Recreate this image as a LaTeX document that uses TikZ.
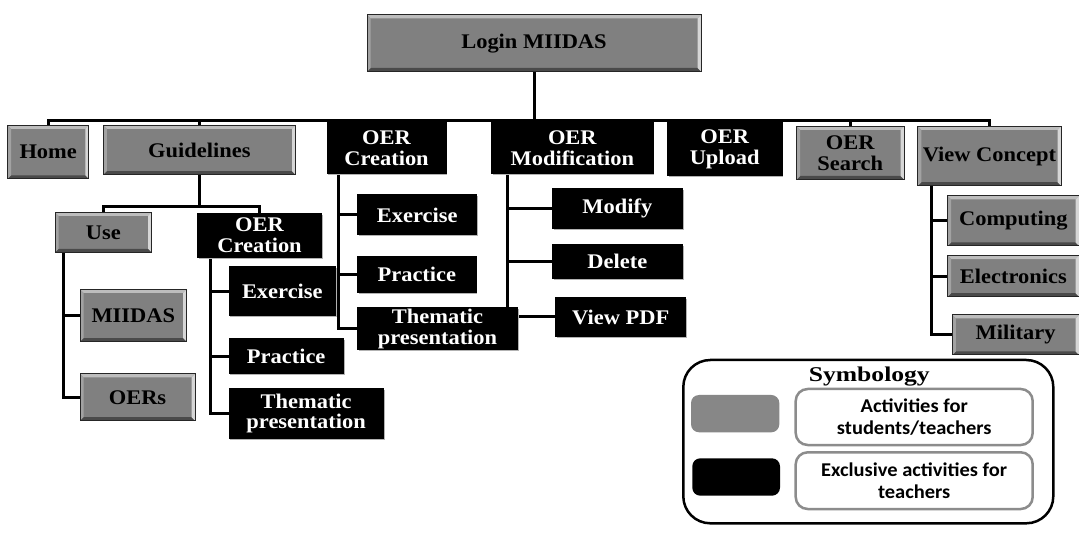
\documentclass[tikz,border=0pt]{standalone}
\usepackage{fontspec}
\setmainfont{Liberation Serif}[FakeStretch=1.08]
\newfontfamily\symbfont{Liberation Serif}[FakeStretch=1.22]
\newfontfamily\legfont{Carlito}[FakeStretch=1.05]
\usetikzlibrary{backgrounds,shadows}
\definecolor{boxgray}{HTML}{808080}
\definecolor{swgray}{HTML}{878787}
\definecolor{legborder}{HTML}{8C8C8C}
\definecolor{bvtop}{HTML}{BDBDBD}
\definecolor{bvleft}{HTML}{A2A2A2}
\definecolor{bvright}{HTML}{D6D6D6}
\definecolor{bvbottom}{HTML}{4A4A4A}
\tikzset{
  basebox/.style={rectangle, inner sep=0pt, align=center,
    font=\bfseries\fontsize{20.8}{20.5}\selectfont},
  bevel/.style={path picture={
    \path (path picture bounding box.north west) coordinate (bnw)
          (path picture bounding box.north east) coordinate (bne)
          (path picture bounding box.south west) coordinate (bsw)
          (path picture bounding box.south east) coordinate (bse);
    \fill[bvtop] (bnw) -- (bne) -- ([shift={(-3.5pt,-3.5pt)}]bne) -- ([shift={(3.5pt,-3.5pt)}]bnw) -- cycle;
    \fill[bvbottom] (bsw) -- (bse) -- ([shift={(-3.5pt,3.5pt)}]bse) -- ([shift={(3.5pt,3.5pt)}]bsw) -- cycle;
    \fill[bvleft] (bnw) -- ([shift={(3.5pt,-3.5pt)}]bnw) -- ([shift={(3.5pt,3.5pt)}]bsw) -- (bsw) -- cycle;
    \fill[bvright] (bne) -- ([shift={(-3.5pt,-3.5pt)}]bne) -- ([shift={(-3.5pt,3.5pt)}]bse) -- (bse) -- cycle;
  }},
  gbox/.style={basebox, fill=boxgray, draw=black!85, line width=1pt, text=black, bevel},
  kbox/.style={basebox, fill=black, draw=black, line width=1pt, text=white,
    drop shadow={shadow xshift=1.3pt, shadow yshift=-1.3pt, fill=black!30, opacity=1}},
  conn/.style={line width=3pt, black},
  legtext/.style={rectangle, inner sep=0pt, align=center, draw=legborder, line width=2.5pt,
    rounded corners=12pt, fill=white, font=\legfont\bfseries\fontsize{19.5}{21.5}\selectfont},
  swatch/.style={rectangle, inner sep=0pt, rounded corners=8pt},
}
\begin{document}
\begin{tikzpicture}[x=1pt, y=-1pt]
\useasboundingbox (0,0) rectangle (1079,534);

% top level
\node[gbox, minimum width=334pt, minimum height=56.5pt] (login) at (534,43.25) {Login MIIDAS};
\node[gbox, minimum width=81.2pt, minimum height=53.4pt] (home) at (48.2,152.1) {Home};
\node[gbox, minimum width=192.2pt, minimum height=49.3pt] (guide) at (199.4,150.05) {Guidelines};
\node[kbox, minimum width=119pt, minimum height=50.6pt] (oerc1) at (386.5,148.3) {OER\\Creation};
\node[kbox, minimum width=161.3pt, minimum height=50.6pt] (oermod) at (572.35,148.3) {OER\\Modification};
\node[kbox, minimum width=114.6pt, minimum height=52.4pt] (upload) at (724.7,149.2) {OER\\Upload};
\node[gbox, minimum width=107.5pt, minimum height=53pt] (search) at (850.25,153) {OER\\Search};
\node[gbox, minimum width=143.2pt, minimum height=59.2pt] (vc) at (989.4,156.1) {View Concept};

% guidelines branch
\node[gbox, minimum width=96.7pt, minimum height=40pt] (use) at (103.35,232.3) {Use};
\node[kbox, minimum width=124.4pt, minimum height=44pt] (oerc2) at (259.5,235.3) {OER\\Creation};
\node[gbox, minimum width=106.7pt, minimum height=52.4pt] (miidas) at (133.35,315.5) {MIIDAS};
\node[gbox, minimum width=115pt, minimum height=46.7pt] (oers) at (137.5,397.35) {OERs};
\node[kbox, minimum width=106.7pt, minimum height=49pt] (ex2) at (282.35,291.2) {Exercise};
\node[kbox, minimum width=114.3pt, minimum height=34.3pt] (pr2) at (286.15,356.15) {Practice};
\node[kbox, minimum width=154.3pt, minimum height=50pt] (th2) at (306.15,413.3) {Thematic\\presentation};

% OER creation branch
\node[kbox, minimum width=119pt, minimum height=40pt] (ex1) at (417.2,215) {Exercise};
\node[kbox, minimum width=118.3pt, minimum height=36pt] (pr1) at (416.85,274.7) {Practice};
\node[kbox, minimum width=159.6pt, minimum height=42.3pt] (th1) at (437.5,328.85) {Thematic\\presentation};

% OER modification branch
\node[kbox, minimum width=130pt, minimum height=39.3pt] (modify) at (617.3,208.65) {Modify};
\node[kbox, minimum width=130pt, minimum height=34.7pt] (delete) at (617.3,261.65) {Delete};
\node[kbox, minimum width=130pt, minimum height=39.4pt] (viewpdf) at (620.7,317) {View PDF};

% view concept branch
\node[gbox, minimum width=131.3pt, minimum height=50pt] (comp) at (1013.35,221) {Computing};
\node[gbox, minimum width=131.3pt, minimum height=41pt] (elec) at (1013.35,276.2) {Electronics};
\node[gbox, minimum width=126.7pt, minimum height=40pt] (mil) at (1015.65,335) {Military};

% legend
\node[draw=black, line width=2.5pt, rounded corners=27pt, minimum width=370pt,
      minimum height=163.3pt, inner sep=0pt] (legend) at (868.3,441.65) {};
\node[anchor=base, inner sep=0pt, font=\symbfont\bfseries\fontsize{21}{21}\selectfont] (symb) at (869.3,381.7) {Symbology};
\node[swatch, fill=swgray, minimum width=88.3pt, minimum height=37.3pt] (swg) at (735.15,413.65) {};
\node[swatch, fill=black, minimum width=87.7pt, minimum height=37.4pt] (swk) at (736.15,477) {};
\node[legtext, minimum width=237pt, minimum height=56pt] (leg1) at (914.2,417) {Activities for\\students/teachers};
\node[legtext, minimum width=237pt, minimum height=56.7pt] (leg2) at (914.2,480.65) {Exclusive activities for\\teachers};

\begin{pgfonlayer}{background}
\fill[white] (0,0) rectangle (1079,534);
\coordinate (bus) at (535.5,120.5);
\coordinate (gbus) at (199.4,206.5);
\coordinate (usev) at ([xshift=9.3pt]use.south west);
\coordinate (oerc2v) at ([xshift=13.7pt]oerc2.south west);
\coordinate (oerc1v) at ([xshift=12pt]oerc1.south west);
\coordinate (oermodv) at ([xshift=16pt]oermod.south west);
\coordinate (vcv) at ([xshift=14.5pt]vc.south west);
% main bus
\draw[conn] (login.south) -- (login.south |- bus);
\draw[conn] (home.north) -- (home.north |- bus) -- (vc.north |- bus) -- (vc.north);
\draw[conn] (guide.north) -- (guide.north |- bus);
\draw[conn] (oerc1.north) -- (oerc1.north |- bus);
\draw[conn] (oermod.north) -- (oermod.north |- bus);
\draw[conn] (upload.north) -- (upload.north |- bus);
\draw[conn] (search.north) -- (search.north |- bus);
% guidelines
\draw[conn] (guide.south) -- (gbus);
\draw[conn] (use.north) -- (use.north |- gbus) -- (oerc2.north |- gbus) -- (oerc2.north);
\draw[conn] (usev) |- (miidas.west);
\draw[conn] (usev) |- (oers.west);
\draw[conn] (oerc2v) |- (ex2.west);
\draw[conn] (oerc2v) |- (pr2.west);
\draw[conn] (oerc2v) |- (th2.west);
% oer creation
\draw[conn] (oerc1v) |- (ex1.west);
\draw[conn] (oerc1v) |- (pr1.west);
\draw[conn] (oerc1v) |- (th1.west);
% oer modification
\draw[conn] (oermodv) |- (modify.west);
\draw[conn] (oermodv) |- (delete.west);
\draw[conn] (oermodv) |- (viewpdf.west);
% view concept
\draw[conn] (vcv) |- (comp.west);
\draw[conn] (vcv) |- (elec.west);
\draw[conn] (vcv) |- (mil.west);
\end{pgfonlayer}
\end{tikzpicture}
\end{document}
